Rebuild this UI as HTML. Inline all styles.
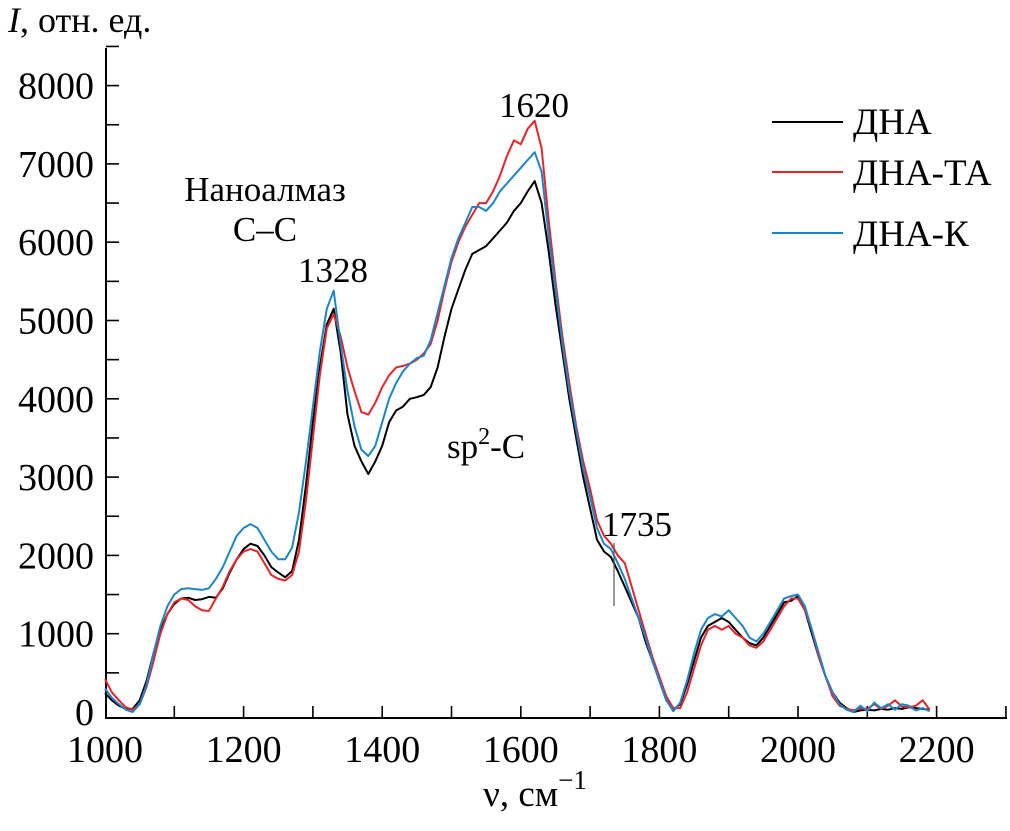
<!DOCTYPE html>
<html><head><meta charset="utf-8"><style>
body{margin:0;background:#fff}
svg{display:block;font-family:"Liberation Serif","Times New Roman","DejaVu Serif",serif}
svg text{font-family:"Liberation Serif","Times New Roman","DejaVu Serif",serif;fill:#000}
</style></head><body>
<svg width="1010" height="831" viewBox="0 0 1010 831" font-family="Liberation Serif, serif">
<g id="axes"></g>
<g id="series"></g>
<text x="8" y="32" font-size="36"><tspan font-style="italic">I</tspan>, отн. ед.</text>
<text x="535" y="806" font-size="37" text-anchor="middle">ν, см<tspan dy="-17" font-size="27">−1</tspan></text>
<text x="265" y="201" font-size="35" text-anchor="middle">Наноалмаз</text>
<text x="265" y="241" font-size="35" text-anchor="middle">С–С</text>
<text x="333" y="282" font-size="35" text-anchor="middle">1328</text>
<text x="534" y="117" font-size="35" text-anchor="middle">1620</text>
<text x="447" y="458" font-size="35">sp<tspan dy="-14" font-size="24">2</tspan><tspan dy="14">-C</tspan></text>
<text x="602" y="536" font-size="35">1735</text>
<line x1="614" y1="543" x2="614" y2="606" stroke="#555" stroke-width="1.2"/>
<g>
<line x1="772" y1="122" x2="843" y2="122" stroke="#000" stroke-width="2"/>
<text x="853" y="134" font-size="37">ДНА</text>
<line x1="772" y1="172" x2="843" y2="172" stroke="#e8232a" stroke-width="2"/>
<text x="853" y="185" font-size="37">ДНА-ТА</text>
<line x1="772" y1="233" x2="843" y2="233" stroke="#1a86c8" stroke-width="2"/>
<text x="853" y="246" font-size="37">ДНА-К</text>
</g>
</svg>
<script>
const wavenumbers = [];
for (let v = 1000; v <= 2190; v += 10) wavenumbers.push(v);
const dna = [240,150,80,40,40,150,400,750,1050,1250,1380,1450,1460,1430,1440,1470,1460,1580,1780,1950,2080,2150,2120,2000,1850,1780,1720,1800,2200,2900,3700,4400,4950,5150,4600,3800,3400,3200,3040,3200,3400,3700,3850,3900,4000,4020,4050,4150,4400,4800,5150,5400,5650,5850,5900,5950,6050,6150,6250,6400,6500,6650,6780,6500,5900,5200,4600,4000,3500,3000,2600,2200,2050,1980,1800,1600,1400,1200,900,650,400,150,30,100,350,650,950,1100,1150,1200,1150,1050,950,880,850,950,1100,1250,1400,1420,1480,1300,1000,700,450,250,120,50,0,20,30,20,40,30,50,40,60,50,40,30];
const dnaTa = [420,250,150,60,30,100,320,650,1000,1250,1400,1450,1430,1350,1300,1290,1450,1600,1800,1950,2050,2080,2050,1900,1750,1700,1680,1750,2050,2700,3500,4300,4900,5080,4800,4400,4100,3830,3800,3950,4150,4300,4400,4420,4450,4500,4580,4700,5000,5400,5750,6000,6200,6350,6500,6500,6650,6850,7100,7300,7250,7450,7550,7200,6300,5500,4800,4200,3650,3200,2850,2450,2250,2150,2000,1900,1600,1300,1000,700,450,200,50,50,250,550,850,1050,1100,1050,1100,1000,950,850,820,900,1050,1200,1350,1450,1450,1300,1050,700,450,200,80,40,20,50,40,100,40,80,150,70,60,80,150,30];
const dnaK = [300,180,100,30,0,100,350,750,1100,1350,1500,1570,1580,1570,1560,1580,1700,1850,2050,2250,2350,2400,2350,2200,2050,1950,1950,2100,2550,3200,3900,4600,5150,5380,4700,4100,3650,3350,3270,3400,3700,4000,4200,4350,4450,4520,4550,4750,5100,5450,5800,6050,6250,6450,6450,6400,6500,6650,6750,6850,6950,7050,7150,6900,6100,5400,4700,4100,3600,3100,2750,2350,2150,2080,1900,1700,1450,1200,950,650,400,150,10,120,400,750,1050,1200,1250,1220,1300,1200,1100,950,900,1000,1150,1300,1450,1480,1500,1350,1050,750,450,250,100,30,0,80,10,120,50,100,30,100,80,20,50,10];
const xTicks = [1000,1200,1400,1600,1800,2000,2200];
const yTicks = [0,1000,2000,3000,4000,5000,6000,7000,8000];
const NS = "http://www.w3.org/2000/svg";
const xs = v => 105 + (v - 1000) * 0.693;
const ys = i => 712 - i * 0.0783;
const axes = document.getElementById('axes');
function mk(tag, attrs, parent){const e=document.createElementNS(NS,tag);for(const k in attrs)e.setAttribute(k,attrs[k]);parent.appendChild(e);return e;}
let l = mk('line',{x1:105,y1:718,x2:1007,y2:718,stroke:'#000','stroke-width':2},axes);


l = mk('line',{x1:106,y1:48,x2:106,y2:719,stroke:'#000','stroke-width':2},axes);


for (let v = 1100; v <= 2300; v += 100) {
  const t = mk('line',{x1:xs(v),y1:718,x2:xs(v),y2:706,stroke:'#000','stroke-width':1.6},axes);
  
  
}
for (let i = 500; i <= 8500; i += 500) {
  const t = mk('line',{x1:106,y1:ys(i),x2:119,y2:ys(i),stroke:'#000','stroke-width':1.6},axes);
  
  
}
xTicks.forEach(v=>{
  const t = mk('text',{x:xs(v),y:762,'font-size':38,'text-anchor':'middle','font-family':'Liberation Serif, serif'},axes);
  t.textContent = v;
  
  
});
yTicks.forEach(i=>{
  const t = mk('text',{x:94,y:ys(i)+13,'font-size':38,'text-anchor':'end','font-family':'Liberation Serif, serif'},axes);
  t.textContent = i;
  
  
});
const g = document.getElementById('series');
[[dna,'#000','series-dna'],[dnaTa,'#e8232a','series-dna-ta'],[dnaK,'#1a86c8','series-dna-k']].forEach(([arr,c,n])=>{
  const d = arr.map((val,k)=>(k?'L':'M')+xs(wavenumbers[k]).toFixed(1)+' '+ys(val).toFixed(1)).join(' ');
  const p = mk('path',{d:d,fill:'none',stroke:c,'stroke-width':2,'stroke-linejoin':'round'},g);
  
  
});
</script>
</body></html>
